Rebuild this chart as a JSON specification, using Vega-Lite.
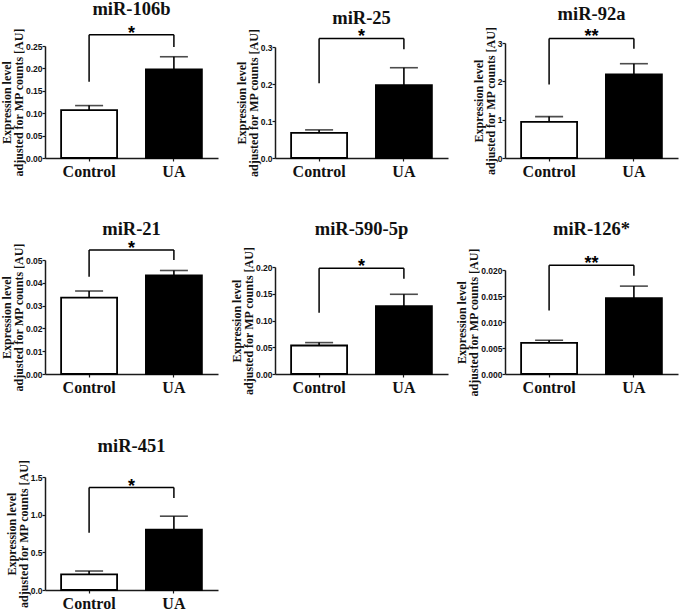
{
  "$schema": "https://vega.github.io/schema/vega-lite/v6.json",
  "padding": {"left": 0, "top": 0, "right": 4, "bottom": 0},
  "background": "white",
  "columns": 3,
  "bounds": "flush",
  "spacing": {"row": 96, "column": 57},
  "concat": [
    {
      "width": 173, "height": 120,
      "title": {"text": "miR-106b", "offset": 6},
      "data": {"values": [
        {"group": "Control", "mean": 0.107, "upper": 0.117, "leg": 0.17, "top": 0.275, "stars": "*"},
        {"group": "UA", "mean": 0.198, "upper": 0.226, "leg": 0.248, "top": 0.275, "stars": "*"}
      ]},
      "layer": [
        {"mark": {"type": "bar", "stroke": "black", "strokeWidth": 1.8},
         "encoding": {
           "x": {"field": "group", "type": "nominal", "title": null, "sort": ["Control", "UA"]},
           "y": {"field": "mean", "type": "quantitative", "title": ["Expression level", "adjusted for MP counts [AU]"],
                 "scale": {"domain": [0, 0.25], "nice": false, "range": [120, 8]},
                 "axis": {"values": [0, 0.05, 0.1, 0.15, 0.2, 0.25], "tickCount": 20, "format": ".2f", "labelOverlap": false}},
           "fill": {"field": "group", "type": "nominal", "scale": {"domain": ["Control", "UA"], "range": ["white", "black"]}, "legend": null}}},
        {"mark": {"type": "rule", "color": "black", "strokeWidth": 1.6},
         "encoding": {"x": {"field": "group", "type": "nominal"}, "y": {"field": "mean", "type": "quantitative"}, "y2": {"field": "upper"}}},
        {"mark": {"type": "tick", "color": "black", "size": 28, "thickness": 1.6},
         "encoding": {"x": {"field": "group", "type": "nominal"}, "y": {"field": "upper", "type": "quantitative"}}},
        {"mark": {"type": "rule", "color": "black", "strokeWidth": 1.5},
         "encoding": {"x": {"field": "group", "type": "nominal"}, "y": {"field": "leg", "type": "quantitative"}, "y2": {"field": "top"}}},
        {"mark": {"type": "line", "color": "black", "strokeWidth": 1.5},
         "encoding": {"x": {"field": "group", "type": "nominal"}, "y": {"field": "top", "type": "quantitative"}}},
        {"transform": [{"filter": "datum.group == 'UA'"}],
         "mark": {"type": "text", "font": "Liberation Sans", "fontWeight": "bold", "fontSize": 18, "baseline": "alphabetic", "dy": 4},
         "encoding": {"y": {"field": "top", "type": "quantitative"}, "text": {"field": "stars"}}}
      ]
    },
    {
      "width": 173, "height": 120,
      "title": {"text": "miR-25", "offset": 1},
      "data": {"values": [
        {"group": "Control", "mean": 0.068, "upper": 0.076, "leg": 0.202, "top": 0.323, "stars": "*"},
        {"group": "UA", "mean": 0.197, "upper": 0.244, "leg": 0.294, "top": 0.323, "stars": "*"}
      ]},
      "layer": [
        {"mark": {"type": "bar", "stroke": "black", "strokeWidth": 1.8},
         "encoding": {
           "x": {"field": "group", "type": "nominal", "title": null, "sort": ["Control", "UA"]},
           "y": {"field": "mean", "type": "quantitative", "title": ["Expression level", "adjusted for MP counts [AU]"],
                 "scale": {"domain": [0, 0.3], "nice": false, "range": [120, 9]},
                 "axis": {"values": [0, 0.1, 0.2, 0.3], "tickCount": 20, "format": ".1f", "labelOverlap": false}},
           "fill": {"field": "group", "type": "nominal", "scale": {"domain": ["Control", "UA"], "range": ["white", "black"]}, "legend": null}}},
        {"mark": {"type": "rule", "color": "black", "strokeWidth": 1.6},
         "encoding": {"x": {"field": "group", "type": "nominal"}, "y": {"field": "mean", "type": "quantitative"}, "y2": {"field": "upper"}}},
        {"mark": {"type": "tick", "color": "black", "size": 28, "thickness": 1.6},
         "encoding": {"x": {"field": "group", "type": "nominal"}, "y": {"field": "upper", "type": "quantitative"}}},
        {"mark": {"type": "rule", "color": "black", "strokeWidth": 1.5},
         "encoding": {"x": {"field": "group", "type": "nominal"}, "y": {"field": "leg", "type": "quantitative"}, "y2": {"field": "top"}}},
        {"mark": {"type": "line", "color": "black", "strokeWidth": 1.5},
         "encoding": {"x": {"field": "group", "type": "nominal"}, "y": {"field": "top", "type": "quantitative"}}},
        {"transform": [{"filter": "datum.group == 'UA'"}],
         "mark": {"type": "text", "font": "Liberation Sans", "fontWeight": "bold", "fontSize": 18, "baseline": "alphabetic", "dy": 4},
         "encoding": {"y": {"field": "top", "type": "quantitative"}, "text": {"field": "stars"}}}
      ]
    },
    {
      "width": 173, "height": 120,
      "title": {"text": "miR-92a", "offset": 3},
      "data": {"values": [
        {"group": "Control", "mean": 0.94, "upper": 1.08, "leg": 1.92, "top": 3.12, "stars": "**"},
        {"group": "UA", "mean": 2.18, "upper": 2.46, "leg": 2.85, "top": 3.12, "stars": "**"}
      ]},
      "layer": [
        {"mark": {"type": "bar", "stroke": "black", "strokeWidth": 1.8},
         "encoding": {
           "x": {"field": "group", "type": "nominal", "title": null, "sort": ["Control", "UA"]},
           "y": {"field": "mean", "type": "quantitative", "title": ["Expression level", "adjusted for MP counts [AU]"],
                 "scale": {"domain": [0, 3], "nice": false, "range": [120, 5]},
                 "axis": {"values": [0, 1, 2, 3], "tickCount": 20, "format": "d", "labelOverlap": false}},
           "fill": {"field": "group", "type": "nominal", "scale": {"domain": ["Control", "UA"], "range": ["white", "black"]}, "legend": null}}},
        {"mark": {"type": "rule", "color": "black", "strokeWidth": 1.6},
         "encoding": {"x": {"field": "group", "type": "nominal"}, "y": {"field": "mean", "type": "quantitative"}, "y2": {"field": "upper"}}},
        {"mark": {"type": "tick", "color": "black", "size": 28, "thickness": 1.6},
         "encoding": {"x": {"field": "group", "type": "nominal"}, "y": {"field": "upper", "type": "quantitative"}}},
        {"mark": {"type": "rule", "color": "black", "strokeWidth": 1.5},
         "encoding": {"x": {"field": "group", "type": "nominal"}, "y": {"field": "leg", "type": "quantitative"}, "y2": {"field": "top"}}},
        {"mark": {"type": "line", "color": "black", "strokeWidth": 1.5},
         "encoding": {"x": {"field": "group", "type": "nominal"}, "y": {"field": "top", "type": "quantitative"}}},
        {"transform": [{"filter": "datum.group == 'UA'"}],
         "mark": {"type": "text", "font": "Liberation Sans", "fontWeight": "bold", "fontSize": 18, "baseline": "alphabetic", "dy": 4},
         "encoding": {"y": {"field": "top", "type": "quantitative"}, "text": {"field": "stars"}}}
      ]
    },
    {
      "width": 173, "height": 120,
      "title": {"text": "miR-21", "offset": 1},
      "data": {"values": [
        {"group": "Control", "mean": 0.0335, "upper": 0.0364, "leg": 0.0426, "top": 0.0544, "stars": "*"},
        {"group": "UA", "mean": 0.0433, "upper": 0.0454, "leg": 0.05, "top": 0.0544, "stars": "*"}
      ]},
      "layer": [
        {"mark": {"type": "bar", "stroke": "black", "strokeWidth": 1.8},
         "encoding": {
           "x": {"field": "group", "type": "nominal", "title": null, "sort": ["Control", "UA"]},
           "y": {"field": "mean", "type": "quantitative", "title": ["Expression level", "adjusted for MP counts [AU]"],
                 "scale": {"domain": [0, 0.05], "nice": false, "range": [120, 6]},
                 "axis": {"values": [0, 0.01, 0.02, 0.03, 0.04, 0.05], "tickCount": 20, "format": ".2f", "labelOverlap": false}},
           "fill": {"field": "group", "type": "nominal", "scale": {"domain": ["Control", "UA"], "range": ["white", "black"]}, "legend": null}}},
        {"mark": {"type": "rule", "color": "black", "strokeWidth": 1.6},
         "encoding": {"x": {"field": "group", "type": "nominal"}, "y": {"field": "mean", "type": "quantitative"}, "y2": {"field": "upper"}}},
        {"mark": {"type": "tick", "color": "black", "size": 28, "thickness": 1.6},
         "encoding": {"x": {"field": "group", "type": "nominal"}, "y": {"field": "upper", "type": "quantitative"}}},
        {"mark": {"type": "rule", "color": "black", "strokeWidth": 1.5},
         "encoding": {"x": {"field": "group", "type": "nominal"}, "y": {"field": "leg", "type": "quantitative"}, "y2": {"field": "top"}}},
        {"mark": {"type": "line", "color": "black", "strokeWidth": 1.5},
         "encoding": {"x": {"field": "group", "type": "nominal"}, "y": {"field": "top", "type": "quantitative"}}},
        {"transform": [{"filter": "datum.group == 'UA'"}],
         "mark": {"type": "text", "font": "Liberation Sans", "fontWeight": "bold", "fontSize": 18, "baseline": "alphabetic", "dy": 4},
         "encoding": {"y": {"field": "top", "type": "quantitative"}, "text": {"field": "stars"}}}
      ]
    },
    {
      "width": 173, "height": 120,
      "title": {"text": "miR-590-5p", "offset": 8},
      "data": {"values": [
        {"group": "Control", "mean": 0.0533, "upper": 0.0587, "leg": 0.1145, "top": 0.1976, "stars": "*"},
        {"group": "UA", "mean": 0.1267, "upper": 0.149, "leg": 0.178, "top": 0.1976, "stars": "*"}
      ]},
      "layer": [
        {"mark": {"type": "bar", "stroke": "black", "strokeWidth": 1.8},
         "encoding": {
           "x": {"field": "group", "type": "nominal", "title": null, "sort": ["Control", "UA"]},
           "y": {"field": "mean", "type": "quantitative", "title": ["Expression level", "adjusted for MP counts [AU]"],
                 "scale": {"domain": [0, 0.2], "nice": false, "range": [120, 13]},
                 "axis": {"values": [0, 0.05, 0.1, 0.15, 0.2], "tickCount": 20, "format": ".2f", "labelOverlap": false}},
           "fill": {"field": "group", "type": "nominal", "scale": {"domain": ["Control", "UA"], "range": ["white", "black"]}, "legend": null}}},
        {"mark": {"type": "rule", "color": "black", "strokeWidth": 1.6},
         "encoding": {"x": {"field": "group", "type": "nominal"}, "y": {"field": "mean", "type": "quantitative"}, "y2": {"field": "upper"}}},
        {"mark": {"type": "tick", "color": "black", "size": 28, "thickness": 1.6},
         "encoding": {"x": {"field": "group", "type": "nominal"}, "y": {"field": "upper", "type": "quantitative"}}},
        {"mark": {"type": "rule", "color": "black", "strokeWidth": 1.5},
         "encoding": {"x": {"field": "group", "type": "nominal"}, "y": {"field": "leg", "type": "quantitative"}, "y2": {"field": "top"}}},
        {"mark": {"type": "line", "color": "black", "strokeWidth": 1.5},
         "encoding": {"x": {"field": "group", "type": "nominal"}, "y": {"field": "top", "type": "quantitative"}}},
        {"transform": [{"filter": "datum.group == 'UA'"}],
         "mark": {"type": "text", "font": "Liberation Sans", "fontWeight": "bold", "fontSize": 18, "baseline": "alphabetic", "dy": 4},
         "encoding": {"y": {"field": "top", "type": "quantitative"}, "text": {"field": "stars"}}}
      ]
    },
    {
      "width": 173, "height": 120,
      "title": {"text": "miR-126*", "offset": 9},
      "data": {"values": [
        {"group": "Control", "mean": 0.006, "upper": 0.0065, "leg": 0.0122, "top": 0.0209, "stars": "**"},
        {"group": "UA", "mean": 0.0146, "upper": 0.0169, "leg": 0.0189, "top": 0.0209, "stars": "**"}
      ]},
      "layer": [
        {"mark": {"type": "bar", "stroke": "black", "strokeWidth": 1.8},
         "encoding": {
           "x": {"field": "group", "type": "nominal", "title": null, "sort": ["Control", "UA"]},
           "y": {"field": "mean", "type": "quantitative", "title": ["Expression level", "adjusted for MP counts [AU]"],
                 "scale": {"domain": [0, 0.02], "nice": false, "range": [120, 16]},
                 "axis": {"values": [0, 0.005, 0.01, 0.015, 0.02], "tickCount": 20, "format": ".3f", "labelOverlap": false}},
           "fill": {"field": "group", "type": "nominal", "scale": {"domain": ["Control", "UA"], "range": ["white", "black"]}, "legend": null}}},
        {"mark": {"type": "rule", "color": "black", "strokeWidth": 1.6},
         "encoding": {"x": {"field": "group", "type": "nominal"}, "y": {"field": "mean", "type": "quantitative"}, "y2": {"field": "upper"}}},
        {"mark": {"type": "tick", "color": "black", "size": 28, "thickness": 1.6},
         "encoding": {"x": {"field": "group", "type": "nominal"}, "y": {"field": "upper", "type": "quantitative"}}},
        {"mark": {"type": "rule", "color": "black", "strokeWidth": 1.5},
         "encoding": {"x": {"field": "group", "type": "nominal"}, "y": {"field": "leg", "type": "quantitative"}, "y2": {"field": "top"}}},
        {"mark": {"type": "line", "color": "black", "strokeWidth": 1.5},
         "encoding": {"x": {"field": "group", "type": "nominal"}, "y": {"field": "top", "type": "quantitative"}}},
        {"transform": [{"filter": "datum.group == 'UA'"}],
         "mark": {"type": "text", "font": "Liberation Sans", "fontWeight": "bold", "fontSize": 18, "baseline": "alphabetic", "dy": 4},
         "encoding": {"y": {"field": "top", "type": "quantitative"}, "text": {"field": "stars"}}}
      ]
    },
    {
      "width": 173, "height": 120,
      "title": {"text": "miR-451", "offset": 4},
      "data": {"values": [
        {"group": "Control", "mean": 0.208, "upper": 0.252, "leg": 0.76, "top": 1.36, "stars": "*"},
        {"group": "UA", "mean": 0.8, "upper": 0.98, "leg": 1.22, "top": 1.36, "stars": "*"}
      ]},
      "layer": [
        {"mark": {"type": "bar", "stroke": "black", "strokeWidth": 1.8},
         "encoding": {
           "x": {"field": "group", "type": "nominal", "title": null, "sort": ["Control", "UA"]},
           "y": {"field": "mean", "type": "quantitative", "title": ["Expression level", "adjusted for MP counts [AU]"],
                 "scale": {"domain": [0, 1.5], "nice": false, "range": [120, 7]},
                 "axis": {"values": [0, 0.5, 1, 1.5], "tickCount": 20, "format": ".1f", "labelOverlap": false}},
           "fill": {"field": "group", "type": "nominal", "scale": {"domain": ["Control", "UA"], "range": ["white", "black"]}, "legend": null}}},
        {"mark": {"type": "rule", "color": "black", "strokeWidth": 1.6},
         "encoding": {"x": {"field": "group", "type": "nominal"}, "y": {"field": "mean", "type": "quantitative"}, "y2": {"field": "upper"}}},
        {"mark": {"type": "tick", "color": "black", "size": 28, "thickness": 1.6},
         "encoding": {"x": {"field": "group", "type": "nominal"}, "y": {"field": "upper", "type": "quantitative"}}},
        {"mark": {"type": "rule", "color": "black", "strokeWidth": 1.5},
         "encoding": {"x": {"field": "group", "type": "nominal"}, "y": {"field": "leg", "type": "quantitative"}, "y2": {"field": "top"}}},
        {"mark": {"type": "line", "color": "black", "strokeWidth": 1.5},
         "encoding": {"x": {"field": "group", "type": "nominal"}, "y": {"field": "top", "type": "quantitative"}}},
        {"transform": [{"filter": "datum.group == 'UA'"}],
         "mark": {"type": "text", "font": "Liberation Sans", "fontWeight": "bold", "fontSize": 18, "baseline": "alphabetic", "dy": 4},
         "encoding": {"y": {"field": "top", "type": "quantitative"}, "text": {"field": "stars"}}}
      ]
    }
  ],
  "config": {
    "view": {"stroke": null},
    "scale": {"bandPaddingInner": 0.34, "bandPaddingOuter": 0.19},
    "axis": {"grid": false, "domainColor": "#1a1a1a", "domainWidth": 1.5, "tickColor": "#1a1a1a", "tickWidth": 1.2, "tickSize": 3, "labelColor": "#111", "labelOverlap": false},
    "axisY": {"labelFont": "Liberation Sans", "labelFontWeight": "bold", "labelFontSize": 8.5, "labelPadding": 0,
              "titleFont": "Liberation Serif", "titleFontSize": 12, "titleFontWeight": "bold", "titleColor": "#111", "titleLineHeight": 12, "titlePadding": 0},
    "axisX": {"labelFont": "Liberation Serif", "labelFontSize": 16, "labelFontWeight": "bold", "labelAngle": 0, "labelPadding": 2, "labelColor": "#111"},
    "title": {"font": "Liberation Serif", "fontSize": 18.5, "fontWeight": "bold", "anchor": "middle", "color": "#111"}
  }
}
